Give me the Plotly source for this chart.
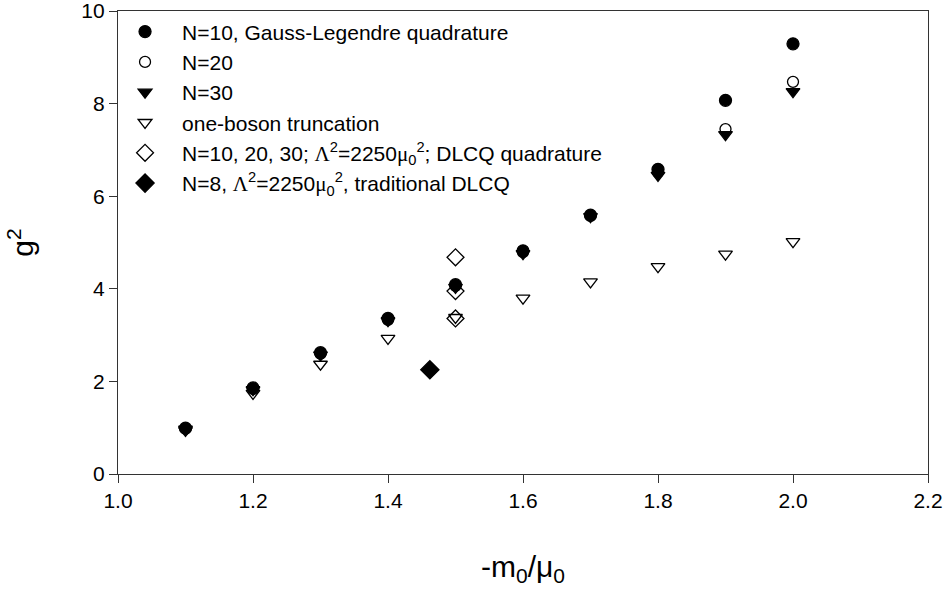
import plotly.graph_objects as go

x_vals = [1.1, 1.2, 1.3, 1.4, 1.5, 1.6, 1.7, 1.8, 1.9, 2.0]
n10_gl = [0.99, 1.86, 2.62, 3.36, 4.09, 4.82, 5.59, 6.58, 8.07, 9.29]
n20 = [0.98, 1.84, 2.60, 3.33, 4.06, 4.79, 5.58, 6.52, 7.45, 8.47]
n30 = [0.97, 1.82, 2.57, 3.31, 4.03, 4.76, 5.56, 6.45, 7.33, 8.26]
one_boson = [0.94, 1.74, 2.37, 2.93, 3.38, 3.80, 4.15, 4.48, 4.75, 5.02]
dlcq_quad_x = [1.5, 1.5, 1.5]
dlcq_quad_y = [4.68, 3.95, 3.36]
trad_dlcq_x = [1.462]
trad_dlcq_y = [2.25]

serif = "font-family:'Liberation Serif','DejaVu Serif',serif"
LAM = f"<span style=\"{serif}\">Λ</span>"
MU = f"<span style=\"{serif}\">μ</span>"

names = [
    "N=10, Gauss-Legendre quadrature",
    "N=20",
    "N=30",
    "one-boson truncation",
    f"N=10, 20, 30; {LAM}<sup>2</sup>=2250{MU}<sub>0</sub><sup>2</sup>; DLCQ quadrature",
    f"N=8, {LAM}<sup>2</sup>=2250{MU}<sub>0</sub><sup>2</sup>, traditional DLCQ",
]

fig = go.Figure()
line = dict(color="black", width=1.3)
fig.add_trace(go.Scatter(x=x_vals, y=n10_gl, mode="markers", name=names[0],
                         marker=dict(symbol="circle", size=12, color="black", line=line)))
fig.add_trace(go.Scatter(x=x_vals, y=n20, mode="markers", name=names[1],
                         marker=dict(symbol="circle-open", size=11, color="black", line=line)))
fig.add_trace(go.Scatter(x=x_vals, y=n30, mode="markers", name=names[2],
                         marker=dict(symbol="triangle-down", size=12, color="black", line=line)))
fig.add_trace(go.Scatter(x=x_vals, y=one_boson, mode="markers", name=names[3],
                         marker=dict(symbol="triangle-down-open", size=12, color="black", line=line)))
fig.add_trace(go.Scatter(x=dlcq_quad_x, y=dlcq_quad_y, mode="markers", name=names[4],
                         marker=dict(symbol="diamond-open", size=13, color="black", line=line)))
fig.add_trace(go.Scatter(x=trad_dlcq_x, y=trad_dlcq_y, mode="markers", name=names[5],
                         marker=dict(symbol="diamond", size=14, color="black", line=line)))

axis_common = dict(
    showline=True, linecolor="#333333", linewidth=1.3, mirror=True,
    ticks="outside", ticklen=8, tickcolor="#333333", tickwidth=1.2,
    showgrid=False, zeroline=False, ticklabeloverflow="allow",
    tickfont=dict(family="Liberation Sans, Arial, sans-serif", size=21, color="black"),
)

fig.update_layout(
    width=948, height=596,
    margin=dict(l=118, r=20, t=11, b=122),
    paper_bgcolor="white", plot_bgcolor="white",
    font=dict(family="Liberation Sans, Arial, sans-serif", color="black"),
    xaxis=dict(range=[1.0, 2.2], tick0=1.0, dtick=0.2, tickformat=".1f",
               title=dict(text="-m<sub>0</sub>/μ<sub>0</sub>", font=dict(size=30), standoff=44),
               automargin=False, **axis_common),
    yaxis=dict(range=[0, 10], tick0=0, dtick=2,
               title=dict(text="g<sup>2</sup>", font=dict(size=30), standoff=38),
               automargin=False, **axis_common),
    legend=dict(x=-0.0123, y=0.999, xanchor="left", yanchor="top",
                bgcolor="rgba(0,0,0,0)", font=dict(size=21, color="black"),
                itemwidth=64, tracegroupgap=0),
    showlegend=True,
)

fig.write_html("out.html", config={"displayModeBar": False},
               post_script="document.body.style.margin='0';")
